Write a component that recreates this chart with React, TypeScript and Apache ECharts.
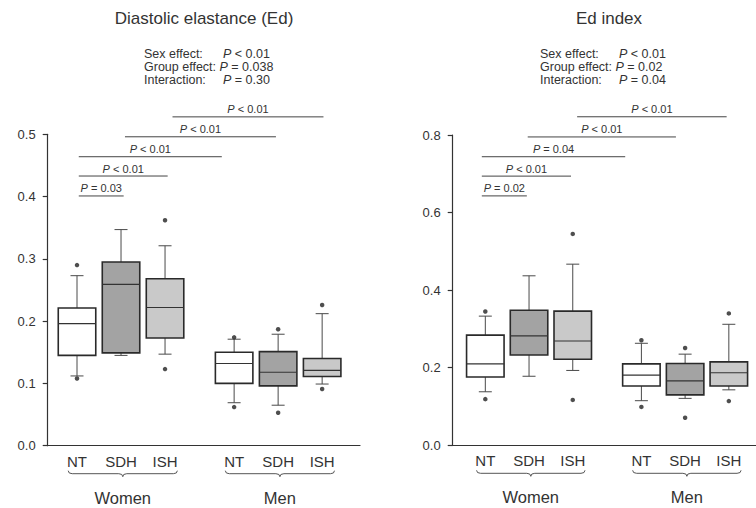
import React, { useEffect, useRef } from "react";
import * as echarts from "echarts";

// ---------- data ----------
const groupCats = ["NT", "SDH", "ISH", "NT", "SDH", "ISH"];
const positions = [0, 1, 2, 3.57, 4.57, 5.57];
const sexGroups = ["Women", "Men"];
const sexGroupMembers = [
  [0, 2],
  [3, 5],
];
const boxColors = ["#ffffff", "#a3a3a3", "#c9c9c9", "#ffffff", "#a3a3a3", "#c9c9c9"];

const effectNames = ["Sex effect:", "Group effect:", "Interaction:"];

// Panel 1: Diastolic elastance (Ed) — [lower whisker, Q1, median, Q3, upper whisker]
const edTitle = "Diastolic elastance (Ed)";
const edBoxes = [
  [0.112, 0.145, 0.196, 0.221, 0.273],
  [0.145, 0.149, 0.259, 0.295, 0.347],
  [0.147, 0.173, 0.222, 0.268, 0.321],
  [0.069, 0.1, 0.132, 0.15, 0.171],
  [0.065, 0.096, 0.118, 0.151, 0.179],
  [0.099, 0.111, 0.121, 0.14, 0.212],
];
const edOutliers = [[0.29, 0.108], [], [0.362, 0.123], [0.174, 0.062], [0.187, 0.053], [0.226, 0.091]];
const edYTicks = { min: 0, max: 0.5, interval: 0.1 };
const edStats = ["P < 0.01", "P = 0.038", "P = 0.30"];
const edCompFrom = [0.04, 0.04, 0.04, 1.09, 2.17];
const edCompTo = [1.06, 2.06, 3.29, 4.52, 5.6];
const edCompLevel = [0.401, 0.433, 0.464, 0.496, 0.528];
const edCompText = ["P = 0.03", "P < 0.01", "P < 0.01", "P < 0.01", "P < 0.01"];

// Panel 2: Ed index
const idxTitle = "Ed index";
const idxBoxes = [
  [0.138, 0.176, 0.21, 0.284, 0.333],
  [0.178, 0.233, 0.282, 0.348, 0.437],
  [0.193, 0.222, 0.269, 0.346, 0.467],
  [0.115, 0.153, 0.181, 0.21, 0.263],
  [0.121, 0.13, 0.166, 0.211, 0.235],
  [0.143, 0.153, 0.187, 0.215, 0.312],
];
const idxOutliers = [[0.345, 0.119], [], [0.545, 0.117], [0.271, 0.099], [0.251, 0.071], [0.34, 0.114]];
const idxYTicks = { min: 0, max: 0.8, interval: 0.2 };
const idxStats = ["P < 0.01", "P = 0.02", "P = 0.04"];
const idxCompFrom = [-0.08, -0.08, -0.08, 0.97, 2.1];
const idxCompTo = [0.95, 1.96, 3.2, 4.36, 5.52];
const idxCompLevel = [0.643, 0.694, 0.744, 0.795, 0.847];
const idxCompText = ["P = 0.02", "P < 0.01", "P = 0.04", "P < 0.01", "P < 0.01"];

// ---------- helpers ----------
const FONT = "'Liberation Sans', Arial, sans-serif";
const TXT = "#333333";

const richP = (s: string) => "{i|P}{n|" + s.replace(/^P/, "") + "}";
const richStyles = (size: number) => ({
  i: { fontStyle: "italic", fontSize: size, fontFamily: FONT, fill: TXT, color: TXT },
  n: { fontSize: size, fontFamily: FONT, fill: TXT, color: TXT },
});

const boxRender = (params: any, api: any) => {
  const x = api.value(0);
  const lo = api.coord([x, api.value(1)]);
  const q1 = api.coord([x, api.value(2)]);
  const md = api.coord([x, api.value(3)]);
  const q3 = api.coord([x, api.value(4)]);
  const hi = api.coord([x, api.value(5)]);
  const cx = lo[0];
  const hw = 18.75;
  const cw = 6.5;
  const ws = { stroke: "#4a4a4a", lineWidth: 1 };
  return {
    type: "group",
    children: [
      { type: "line", shape: { x1: cx, y1: hi[1], x2: cx, y2: q3[1] }, style: ws },
      { type: "line", shape: { x1: cx - cw, y1: hi[1], x2: cx + cw, y2: hi[1] }, style: ws },
      { type: "line", shape: { x1: cx, y1: q1[1], x2: cx, y2: lo[1] }, style: ws },
      { type: "line", shape: { x1: cx - cw, y1: lo[1], x2: cx + cw, y2: lo[1] }, style: ws },
      {
        type: "rect",
        shape: { x: cx - hw, y: q3[1], width: hw * 2, height: q1[1] - q3[1] },
        style: { fill: boxColors[params.dataIndex], stroke: "#2a2a2a", lineWidth: 1.6 },
      },
      {
        type: "line",
        shape: { x1: cx - hw, y1: md[1], x2: cx + hw, y2: md[1] },
        style: { stroke: "#333", lineWidth: 1.1 },
      },
    ],
  };
};

const compRender = (texts: string[]) => (params: any, api: any) => {
  const a = api.coord([api.value(0), api.value(2)]);
  const b = api.coord([api.value(1), api.value(2)]);
  return {
    type: "group",
    children: [
      { type: "line", shape: { x1: a[0], y1: a[1], x2: b[0], y2: b[1] }, style: { stroke: "#444", lineWidth: 1 } },
      {
        type: "text",
        x: (a[0] + b[0]) / 2,
        y: a[1] - 2,
        style: {
          text: richP(texts[params.dataIndex]),
          rich: richStyles(11),
          align: "center",
          verticalAlign: "bottom",
          fill: TXT,
        },
      },
    ],
  };
};

const braceRender = (params: any, api: any) => {
  const a = api.coord([api.value(0), 0]);
  const b = api.coord([api.value(1), 0]);
  const x1 = a[0];
  const x2 = b[0];
  const y = a[1] + 25;
  const mid = (x1 + x2) / 2;
  const d =
    `M${x1} ${y} Q${x1} ${y + 3} ${x1 + 4} ${y + 3} L${mid - 4} ${y + 3} Q${mid} ${y + 3} ${mid} ${y + 6} ` +
    `Q${mid} ${y + 3} ${mid + 4} ${y + 3} L${x2 - 4} ${y + 3} Q${x2} ${y + 3} ${x2} ${y}`;
  return {
    type: "group",
    children: [
      { type: "path", shape: { pathData: d }, style: { fill: "none", stroke: "#555", lineWidth: 1 } },
      {
        type: "text",
        x: mid,
        y: a[1] + 52,
        style: {
          text: sexGroups[params.dataIndex],
          font: `16.5px ${FONT}`,
          fill: TXT,
          align: "center",
          verticalAlign: "middle",
        },
      },
    ],
  };
};

const xLabel = (v: number) => {
  const i = positions.findIndex((p) => Math.abs(p - v) < 1e-6);
  return i >= 0 ? groupCats[i] : "";
};

function panelAxes(idx: number, xmin: number, xmax: number, ticks: { min: number; max: number; interval: number }) {
  const xAxis = {
    type: "value",
    gridIndex: idx,
    min: xmin,
    max: xmax,
    axisLine: { show: true, onZero: false, lineStyle: { color: "#333", width: 1.2 } },
    axisTick: { show: false },
    splitLine: { show: false },
    axisLabel: {
      customValues: positions,
      formatter: xLabel,
      margin: 8,
      fontSize: 15,
      fontFamily: FONT,
      color: TXT,
    },
  };
  const yAxis = {
    type: "value",
    gridIndex: idx,
    min: ticks.min,
    max: ticks.max,
    interval: ticks.interval,
    axisLine: { show: true, onZero: false, lineStyle: { color: "#333", width: 1.2 } },
    axisTick: { show: true, length: 5, lineStyle: { color: "#333", width: 1.2 } },
    splitLine: { show: false },
    axisLabel: {
      formatter: (v: number) => v.toFixed(1),
      margin: 12,
      fontSize: 13,
      fontFamily: FONT,
      color: TXT,
    },
  };
  return { xAxis, yAxis };
}

function panelSeries(
  idx: number,
  boxes: number[][],
  outliers: number[][],
  from: number[],
  to: number[],
  level: number[],
  texts: string[]
) {
  const outData: number[][] = [];
  outliers.forEach((vals, i) => vals.forEach((v) => outData.push([positions[i], v])));
  return [
    {
      type: "custom",
      xAxisIndex: idx,
      yAxisIndex: idx,
      renderItem: boxRender,
      encode: { x: 0, y: [1, 2, 3, 4, 5] },
      data: positions.map((p, i) => [p, ...boxes[i]]),
      clip: false,
      z: 2,
    },
    {
      type: "scatter",
      xAxisIndex: idx,
      yAxisIndex: idx,
      symbol: "circle",
      symbolSize: 4.5,
      itemStyle: { color: "#222" },
      data: outData,
      z: 3,
    },
    {
      type: "custom",
      xAxisIndex: idx,
      yAxisIndex: idx,
      renderItem: compRender(texts),
      encode: { x: [0, 1], y: 2 },
      data: from.map((f, i) => [f, to[i], level[i]]),
      clip: false,
      z: 2,
    },
    {
      type: "custom",
      xAxisIndex: idx,
      yAxisIndex: idx,
      renderItem: braceRender,
      encode: { x: [0, 1] },
      data: sexGroupMembers.map(([s, e]) => [positions[s] - 0.2, positions[e] + 0.28]),
      clip: false,
      silent: true,
    },
  ];
}

function statsGraphic(x: number, stats: string[]) {
  const ys = [54, 67, 80];
  const out: any[] = [];
  effectNames.forEach((name, i) => {
    if (i === 1) {
      out.push({
        type: "text",
        left: x,
        top: ys[i] - 7,
        style: {
          text: `{n|${name} }` + richP(stats[i]),
          rich: richStyles(12.5),
        },
      });
    } else {
      out.push({
        type: "text",
        left: x,
        top: ys[i] - 7,
        style: { text: name, font: `12.5px ${FONT}`, fill: TXT },
      });
      out.push({
        type: "text",
        left: x + 79,
        top: ys[i] - 7,
        style: { text: richP(stats[i]), rich: richStyles(12.5) },
      });
    }
  });
  return out;
}

export default function App() {
  const ref = useRef<HTMLDivElement>(null);
  useEffect(() => {
    if (!ref.current) return;
    const chart = echarts.init(ref.current, undefined, { renderer: "svg" });
    const p1 = panelAxes(0, -0.666, 6.43, edYTicks);
    const p2 = panelAxes(1, -0.746, 6.18, idxYTicks);
    chart.setOption({
      animation: false,
      backgroundColor: "#ffffff",
      textStyle: { fontFamily: FONT },
      grid: [
        { left: 47.7, top: 134.3, width: 312.3, height: 311.4, containLabel: false },
        { left: 452.7, top: 135, width: 302.8, height: 310.3, containLabel: false },
      ],
      xAxis: [p1.xAxis, p2.xAxis],
      yAxis: [p1.yAxis, p2.yAxis],
      series: [
        ...panelSeries(0, edBoxes, edOutliers, edCompFrom, edCompTo, edCompLevel, edCompText),
        ...panelSeries(1, idxBoxes, idxOutliers, idxCompFrom, idxCompTo, idxCompLevel, idxCompText),
      ],
      graphic: [
        {
          type: "text",
          x: 204,
          y: 18,
          style: { text: edTitle, font: `17px ${FONT}`, fill: TXT, align: "center", verticalAlign: "middle" },
        },
        {
          type: "text",
          x: 609,
          y: 18,
          style: { text: idxTitle, font: `17px ${FONT}`, fill: TXT, align: "center", verticalAlign: "middle" },
        },
        ...statsGraphic(144, edStats),
        ...statsGraphic(540, idxStats),
      ],
    });
    return () => chart.dispose();
  }, []);
  return <div ref={ref} style={{ position: "fixed", left: 0, top: 0, width: 756, height: 508 }} />;
}
